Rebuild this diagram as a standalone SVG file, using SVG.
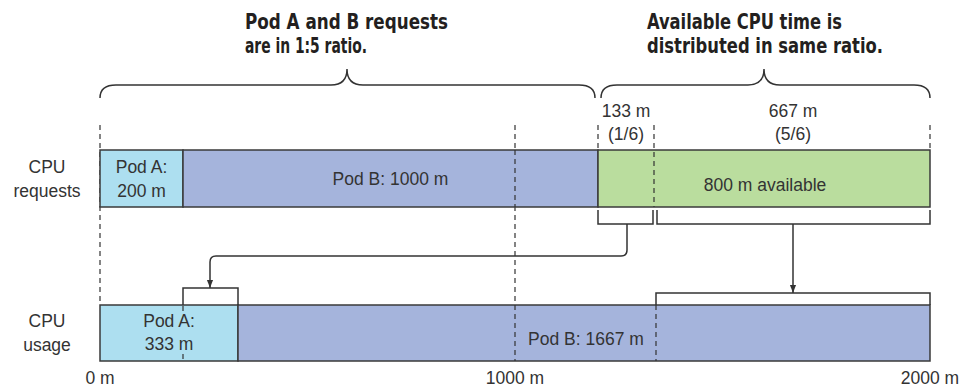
<svg xmlns="http://www.w3.org/2000/svg" width="966" height="389" viewBox="0 0 966 389">
<defs>
<marker id="ah" markerWidth="8" markerHeight="11" refX="10" refY="5" orient="auto" markerUnits="userSpaceOnUse" viewBox="0 0 10 10">
<path d="M0,1.2 L10,5 L0,8.8 z" fill="#333"/>
</marker>
<style>
.t{font-family:"Liberation Sans",Arial,sans-serif;font-size:17.5px;fill:#333;text-anchor:middle}
.h{font-family:"DejaVu Sans Condensed","DejaVu Sans",sans-serif;font-stretch:condensed;font-weight:bold;font-size:22px;fill:#231f20}
.bar{stroke:#3a3a3a;stroke-width:1.5}
.a{fill:#addff0}
.b{fill:#a5b4dc}
.g{fill:#badd9e}
.d{stroke:#333;stroke-width:1.2;stroke-dasharray:5,4;fill:none}
.ln{stroke:#333;stroke-width:1.5;fill:none}
</style>
</defs>
<rect width="966" height="389" fill="#fff"/>

<g id="titles">
<text class="h" x="245" y="29" textLength="203" lengthAdjust="spacingAndGlyphs">Pod A and B requests</text>
<text class="h" x="245" y="53" textLength="122" lengthAdjust="spacingAndGlyphs">are in 1:5 ratio.</text>
<text class="h" x="647" y="29" textLength="195" lengthAdjust="spacingAndGlyphs">Available CPU time is</text>
<text class="h" x="647" y="53" textLength="236" lengthAdjust="spacingAndGlyphs">distributed in same ratio.</text>
</g>

<g id="braces">
<path class="ln" d="M100,98 Q100,85 116,85 L331,85 Q347,85 347,69 Q347,85 363,85 L579,85 Q595,85 595,98"/>
<path class="ln" d="M601,98 Q601,85 617,85 L748,85 Q764,85 764,69 Q764,85 780,85 L914,85 Q930,85 930,98"/>
</g>

<g id="gridlines">
<line class="d" x1="100" y1="125" x2="100" y2="305"/>
<line class="d" x1="515" y1="125" x2="515" y2="361"/>
<line class="d" x1="598" y1="125" x2="598" y2="150"/>
<line class="d" x1="930" y1="125" x2="930" y2="150"/>
</g>

<g id="row-labels">
<text class="t" x="47" y="173">CPU</text>
<text class="t" x="47" y="197">requests</text>
<text class="t" x="47" y="327">CPU</text>
<text class="t" x="47" y="351">usage</text>
</g>

<g id="req-podA">
<rect class="bar a" x="100" y="150" width="83" height="57"/>
<text class="t" x="141.5" y="173">Pod A:</text>
<text class="t" x="141.5" y="197">200 m</text>
</g>
<g id="req-podB">
<rect class="bar b" x="183" y="150" width="415" height="57"/>
<line class="d" x1="515" y1="150" x2="515" y2="207"/>
<text class="t" x="390.5" y="185">Pod B: 1000 m</text>
</g>
<g id="req-available">
<rect class="bar g" x="598" y="150" width="332" height="57"/>
<line class="d" x1="654" y1="125" x2="654" y2="207"/>
<text class="t" x="765" y="191">800 m available</text>
</g>
<g id="share-labels">
<text class="t" x="626" y="117">133 m</text>
<text class="t" x="626" y="140">(1/6)</text>
<text class="t" x="793" y="117">667 m</text>
<text class="t" x="793" y="140">(5/6)</text>
</g>

<g id="use-podA">
<rect class="bar a" x="100" y="305" width="138" height="56"/>
<line class="d" x1="183" y1="306" x2="183" y2="314"/>
<line class="d" x1="183" y1="354" x2="183" y2="361"/>
<text class="t" x="169" y="327">Pod A:</text>
<text class="t" x="169" y="350">333 m</text>
</g>
<g id="use-podB">
<rect class="bar b" x="238" y="305" width="692" height="56"/>
<line class="d" x1="515" y1="305" x2="515" y2="361"/>
<line class="d" x1="656" y1="305" x2="656" y2="361"/>
<text class="t" x="586" y="345">Pod B: 1667 m</text>
</g>

<g id="axis">
<text class="t" x="100" y="384">0 m</text>
<text class="t" x="515" y="384">1000 m</text>
<text class="t" x="930" y="384">2000 m</text>
</g>

<g id="connectors">
<path class="ln" d="M598,210 V224 H653 V210"/>
<path class="ln" d="M657,210 V224 H930 V210"/>
<path class="ln" d="M183,305 V288 H238 V305"/>
<path class="ln" d="M656,305 V293 H930 V305"/>
<path class="ln" d="M627,224 V250 Q627,256 621,256 H216 Q210,256 210,262 V288" marker-end="url(#ah)"/>
<path class="ln" d="M793,224 V293" marker-end="url(#ah)"/>
</g>
</svg>
